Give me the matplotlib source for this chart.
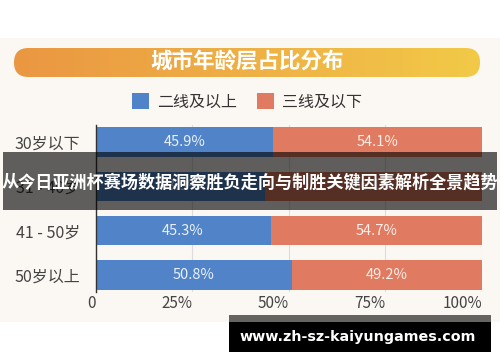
import numpy as np
import matplotlib.pyplot as plt
from matplotlib.patches import Rectangle, FancyBboxPatch

plt.rcParams['font.family'] = ['Noto Sans CJK SC', 'DejaVu Sans']

title = "城市年龄层占比分布"
categories = ["30岁以下", "31 - 40岁", "41 - 50岁", "50岁以上"]
series_names = ["二线及以上", "三线及以下"]
tier2 = [45.9, 43.9, 45.3, 50.8]
tier3 = [54.1, 56.1, 54.7, 49.2]
xticks = [0, 25, 50, 75, 100]
xticklabels = ["0", "25%", "50%", "75%", "100%"]
banner = "从今日亚洲杯赛场数据洞察胜负走向与制胜关键因素解析全景趋势"
url = "www.zh-sz-kaiyungames.com"

blue = "#5183c8"
red = "#e07a60"
beige = "#fbf7f2"
W, H = 500, 362

fig = plt.figure(figsize=(W / 100, H / 100), dpi=100)
fig.patch.set_facecolor("white")


def fx(px):
    return px / W


def fy(py):
    return 1 - py / H


# beige panel behind everything
fig.patches.append(Rectangle((0, fy(322)), 1, fy(38) - fy(322), transform=fig.transFigure,
                             facecolor=beige, edgecolor="none", zorder=-5))

# title pill with gradient
tax = fig.add_axes([fx(14), fy(77), fx(466), fy(48) - fy(77)])
tax.set_xlim(0, 466)
tax.set_ylim(0, 29)
tax.axis("off")
grad = np.linspace(0, 1, 256).reshape(1, -1)
c0 = np.array([0.92, 0.59, 0.26])
c1 = np.array([0.95, 0.79, 0.28])
img = c0[None, None, :] * (1 - grad[..., None]) + c1[None, None, :] * grad[..., None]
im = tax.imshow(img, extent=[0, 466, 0, 29], aspect="auto")
pill = FancyBboxPatch((0, 0), 466, 29, boxstyle="round,pad=0,rounding_size=14.5",
                      transform=tax.transData, facecolor="none", edgecolor="none")
tax.add_patch(pill)
im.set_clip_path(pill)
tax.text(233, 14.5, title, ha="center", va="center", color="white",
         fontsize=15.5, fontweight="bold")

# bars
ax = fig.add_axes([fx(95.5), fy(292), fx(482) - fx(95.5), fy(125) - fy(292)])
ax.set_facecolor("none")
y = np.arange(len(categories))
b1 = ax.barh(y, tier2, height=0.66, color=blue, label=series_names[0], zorder=2)
b2 = ax.barh(y, tier3, left=tier2, height=0.66, color=red, label=series_names[1], zorder=2)
for i in range(len(categories)):
    ax.text(tier2[i] / 2, y[i], f"{tier2[i]}%", ha="center", va="center",
            color="#eaf0f8", fontsize=10.5, zorder=3)
    ax.text(tier2[i] + tier3[i] / 2, y[i], f"{tier3[i]}%", ha="center", va="center",
            color="#fbeee9", fontsize=10.5, zorder=3)
ax.set_xlim(0, 100)
ax.set_ylim(3.38, -0.38)
ax.set_yticks(y)
ax.set_yticklabels(categories, fontsize=11.5, color="#444444")
ax.set_xticks(xticks)
ax.set_xticklabels(xticklabels, fontsize=11, color="#444444", ha="right")
ax.tick_params(axis="y", length=0, pad=11)
ax.tick_params(axis="x", length=0, pad=2)
ax.grid(axis="x", color="#dcdcdc", linewidth=0.8, zorder=1)
for s in ["top", "right", "bottom"]:
    ax.spines[s].set_visible(False)
ax.spines["left"].set_color("#333333")
ax.spines["left"].set_linewidth(1.0)
ax.spines["left"].set_zorder(4)

fig.legend(handles=[b1, b2], labels=series_names, loc="center",
           bbox_to_anchor=(fx(247), fy(102)), ncol=2, frameon=False,
           fontsize=11.5, handlelength=1.1, handleheight=1.1, handletextpad=0.5,
           columnspacing=1.2, labelcolor="#333333")

# overlay banner
fig.patches.append(Rectangle((fx(3), fy(210)), fx(494), fy(152) - fy(210), transform=fig.transFigure,
                             facecolor="black", alpha=0.62, edgecolor="none", zorder=10))
fig.text(0.5, fy(182), banner, ha="center", va="center", color="white",
         fontsize=12.3, fontweight="bold", zorder=11)

# url box
fig.patches.append(Rectangle((fx(229), fy(322)), fx(262), fy(315) - fy(322), transform=fig.transFigure,
                             facecolor="#666460", edgecolor="none", zorder=10))
fig.patches.append(Rectangle((fx(229), fy(352)), fx(262), fy(322) - fy(352), transform=fig.transFigure,
                             facecolor="black", edgecolor="none", zorder=10))
fig.text(fx(358), fy(337), url, ha="center", va="center", color="white",
         fontsize=10.3, fontweight="bold", family="DejaVu Sans", zorder=11)

fig.savefig("out.png", dpi=100, facecolor=fig.get_facecolor())
